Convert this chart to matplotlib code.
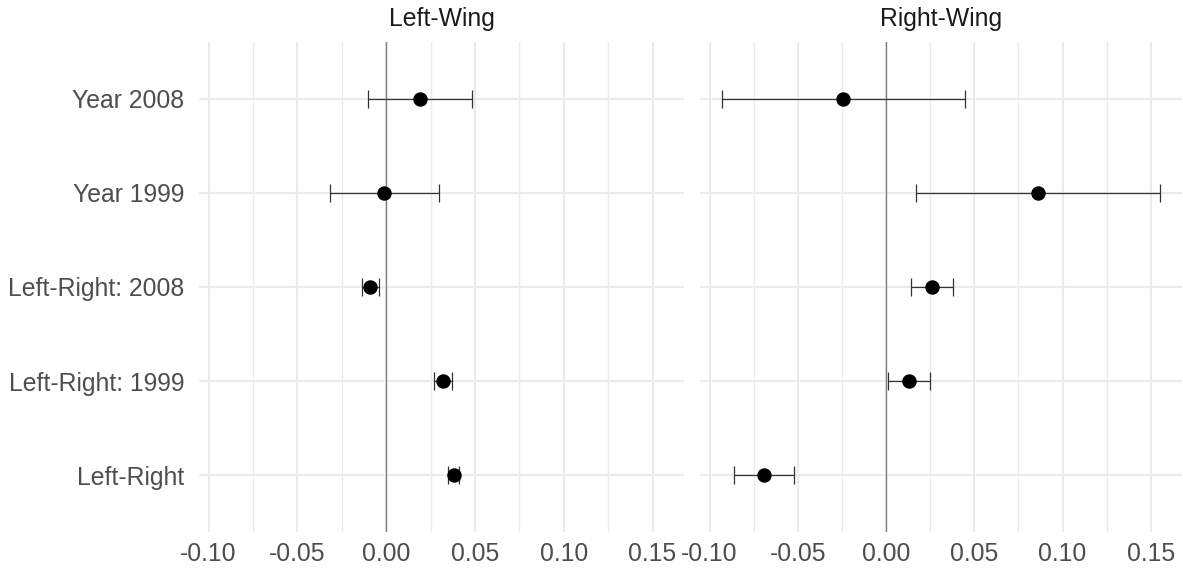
import matplotlib
matplotlib.use("Agg")
import matplotlib.pyplot as plt
import numpy as np

terms = ["Year 2008", "Year 1999", "Left-Right: 2008", "Left-Right: 1999", "Left-Right"]
panels = ["Left-Wing", "Right-Wing"]

left_est = [0.0191, -0.0010, -0.0090, 0.0321, 0.0380]
left_lo = [-0.0100, -0.0319, -0.0139, 0.0272, 0.0350]
left_hi = [0.0481, 0.0300, -0.0039, 0.0371, 0.0410]

right_est = [-0.0242, 0.0861, 0.0261, 0.0129, -0.0690]
right_lo = [-0.0930, 0.0171, 0.0141, 0.0011, -0.0859]
right_hi = [0.0450, 0.1553, 0.0381, 0.0249, -0.0519]

xticks = [-0.10, -0.05, 0.00, 0.05, 0.10, 0.15]
xtick_labels = ["-0.10", "-0.05", "0.00", "0.05", "0.10", "0.15"]
xminor = [-0.075, -0.025, 0.025, 0.075, 0.125]

plt.rcParams['font.family'] = ['Liberation Sans', 'DejaVu Sans']

fig = plt.figure(figsize=(11.83, 5.70), dpi=100)
W, H = 1183, 570
top_px, bot_px = 42, 532
boxes = [(199, 684), (700, 1182)]

all_lo = min(left_lo + right_lo)
all_hi = max(left_hi + right_hi)
rng = all_hi - all_lo
xlim = (all_lo - 0.05 * rng, all_hi + 0.05 * rng)

n = len(terms)
ypos = np.arange(n)[::-1]  # first term on top

data = [(left_est, left_lo, left_hi), (right_est, right_lo, right_hi)]
fs = 17.8

for i, (title, (x0, x1), (est, lo, hi)) in enumerate(zip(panels, boxes, data)):
    ax = fig.add_axes([x0 / W, 1 - bot_px / H, (x1 - x0) / W, (bot_px - top_px) / H])
    ax.set_xlim(*xlim)
    ax.set_ylim(-0.6, n - 1 + 0.6)
    for s in ax.spines.values():
        s.set_visible(False)
    for xv in xminor:
        ax.axvline(xv, color="#EBEBEB", lw=0.95, zorder=0)
    for xv in xticks:
        ax.axvline(xv, color="#EBEBEB", lw=1.5, zorder=0)
    for yv in ypos:
        ax.axhline(yv, color="#EBEBEB", lw=1.5, zorder=0)
    ax.axvline(0, color="#7F7F7F", lw=1.0, zorder=1)
    est = np.array(est); lo = np.array(lo); hi = np.array(hi)
    ax.errorbar(est, ypos, xerr=[est - lo, hi - est], fmt="none",
                ecolor="#333333", elinewidth=0.9, capsize=6.5, capthick=0.9, zorder=2)
    ax.plot(est, ypos, "o", color="black", markersize=9.4, zorder=3)
    ax.set_xticks(xticks)
    ax.set_xticklabels(xtick_labels)
    ax.tick_params(axis="x", length=0, pad=7.5, labelsize=fs, labelcolor="#4D4D4D")
    ax.set_yticks(ypos)
    if i == 0:
        ax.set_yticklabels(terms)
        ax.tick_params(axis="y", length=0, pad=10.5, labelsize=fs, labelcolor="#4D4D4D")
    else:
        ax.set_yticklabels([])
        ax.tick_params(axis="y", length=0)
    ax.set_title(title, fontsize=fs, color="#1A1A1A", pad=11.5)

fig.savefig("out.png", dpi=100, facecolor="white")
